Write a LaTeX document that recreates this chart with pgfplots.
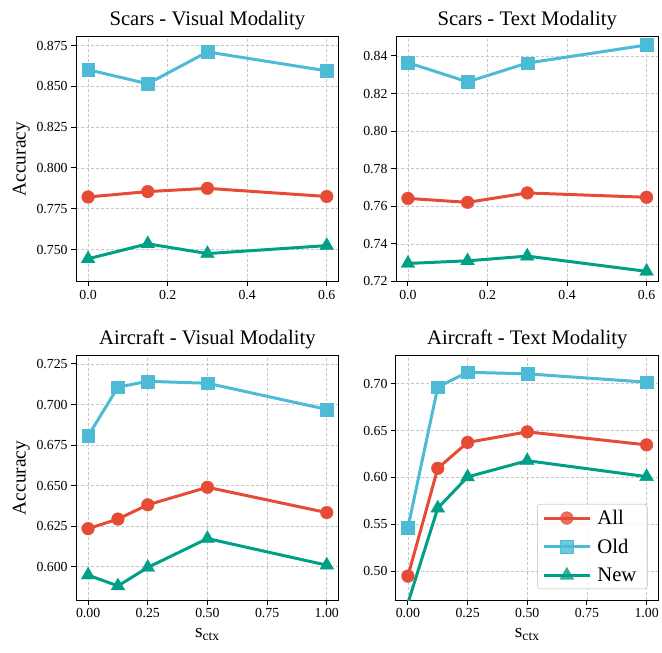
\documentclass[border=0pt]{standalone}
\usepackage{pgfplots}
\pgfplotsset{compat=1.18}
\usepackage{fontspec}
\setmainfont{Liberation Serif}
\definecolor{cAll}{HTML}{E64B35}
\definecolor{cOld}{HTML}{4DBBD5}
\definecolor{cNew}{HTML}{00A087}
\pgfplotsset{
  myax/.style={
    scale only axis, width=263bp, height=245bp, anchor=south west,
    axis line style={line width=1bp},
    tick pos=left, tick align=outside, major tick length=5bp,
    tick style={line width=1bp, black},
    grid=major, grid style={dash pattern=on 3bp off 2bp, gray!45, line width=0.7bp},
    /pgf/number format/assume math mode=true,
    ticklabel style={font=\fontsize{13.9}{16}\selectfont},
    title style={font=\fontsize{20.8}{24}\selectfont, yshift=-3bp},
    xlabel style={font=\fontsize{19.5}{23}\selectfont, yshift=-3bp},
    ylabel style={font=\fontsize{19.5}{23}\selectfont},
    clip=true,
    legend image code/.code={\draw[mark repeat=2,mark phase=2] plot coordinates {(0bp,0bp) (23bp,0bp) (46bp,0bp)};},
  },
  sAll/.style={color=cAll, line width=3bp, mark=*, mark size=6.4bp, mark options={solid, line width=0.3bp}},
  sOld/.style={color=cOld, line width=3bp, mark=square*, mark size=6.4bp, mark options={solid, line width=0.3bp}},
  sNew/.style={color=cNew, line width=3bp, mark=triangle*, mark size=8bp, mark options={solid, line width=0.3bp}},
  topx/.style={xmin=-0.03, xmax=0.63, xtick={0,0.2,0.4,0.6},
    xticklabel style={/pgf/number format/.cd, fixed, fixed zerofill, precision=1}},
  botx/.style={xmin=-0.05, xmax=1.05, xtick={0,0.25,0.5,0.75,1},
    xticklabel style={/pgf/number format/.cd, fixed, fixed zerofill, precision=2},
    xlabel={s\textsubscript{ctx}}},
  y3/.style={yticklabel style={/pgf/number format/.cd, fixed, fixed zerofill, precision=3}},
  y2/.style={yticklabel style={/pgf/number format/.cd, fixed, fixed zerofill, precision=2}},
}
\begin{document}
\begin{tikzpicture}
\path (0bp,0bp) rectangle (662bp,654bp);
% Top-left
\begin{axis}[myax, topx, y3, at={(76.3bp,372bp)},
  ymin=0.7304, ymax=0.8803, ytick={0.750,0.775,0.800,0.825,0.850,0.875},
  title={Scars - Visual Modality}, ylabel={Accuracy}]
\addplot[sAll] coordinates {(0,0.7822) (0.15,0.7855) (0.3,0.7875) (0.6,0.7825)};
\addplot[sOld] coordinates {(0,0.8602) (0.15,0.8516) (0.3,0.8711) (0.6,0.8595)};
\addplot[sNew] coordinates {(0,0.7443) (0.15,0.7535) (0.3,0.7475) (0.6,0.7524)};
\end{axis}
% Top-right
\begin{axis}[myax, topx, y2, at={(396.7bp,372bp)},
  ymin=0.72, ymax=0.8501, ytick={0.72,0.74,0.76,0.78,0.80,0.82,0.84},
  title={Scars - Text Modality}]
\addplot[sAll] coordinates {(0,0.7642) (0.15,0.7621) (0.3,0.7671) (0.6,0.7648)};
\addplot[sOld] coordinates {(0,0.8364) (0.15,0.8262) (0.3,0.8362) (0.6,0.8458)};
\addplot[sNew] coordinates {(0,0.7296) (0.15,0.7310) (0.3,0.7335) (0.6,0.7254)};
\end{axis}
% Bottom-left
\begin{axis}[myax, botx, y3, at={(76.3bp,52.7bp)},
  ymin=0.5794, ymax=0.7301, ytick={0.600,0.625,0.650,0.675,0.700,0.725},
  title={Aircraft - Visual Modality}, ylabel={Accuracy}]
\addplot[sAll] coordinates {(0,0.6235) (0.125,0.6294) (0.25,0.6382) (0.5,0.6490) (1,0.6334)};
\addplot[sOld] coordinates {(0,0.6806) (0.125,0.7107) (0.25,0.7143) (0.5,0.7131) (1,0.6970)};
\addplot[sNew] coordinates {(0,0.5949) (0.125,0.5882) (0.25,0.5996) (0.5,0.6174) (1,0.6010)};
\end{axis}
% Bottom-right
\begin{axis}[myax, botx, y2, at={(396.7bp,52.7bp)},
  ymin=0.469, ymax=0.730, ytick={0.50,0.55,0.60,0.65,0.70},
  title={Aircraft - Text Modality},
  legend cell align=left,
  legend style={at={(0.959,0.045)}, anchor=south east, font=\fontsize{20.8}{24}\selectfont,
    draw=gray!35, line width=0.8bp, rounded corners=3bp, fill=white, fill opacity=0.8, text opacity=1,
    row sep=11bp, inner xsep=5bp, inner ysep=5bp,
    nodes={inner xsep=6bp, inner ysep=1bp}}]
\addplot[sAll] coordinates {(0,0.4947) (0.125,0.6098) (0.25,0.6374) (0.5,0.6487) (1,0.6348)};
\addlegendentry{All}
\addplot[sOld] coordinates {(0,0.5464) (0.125,0.6964) (0.25,0.7123) (0.5,0.7106) (1,0.7017)};
\addlegendentry{Old}
\addplot[sNew] coordinates {(0,0.466) (0.125,0.5673) (0.25,0.6006) (0.5,0.6179) (1,0.6009)};
\addlegendentry{New}
\end{axis}
\end{tikzpicture}
\end{document}
